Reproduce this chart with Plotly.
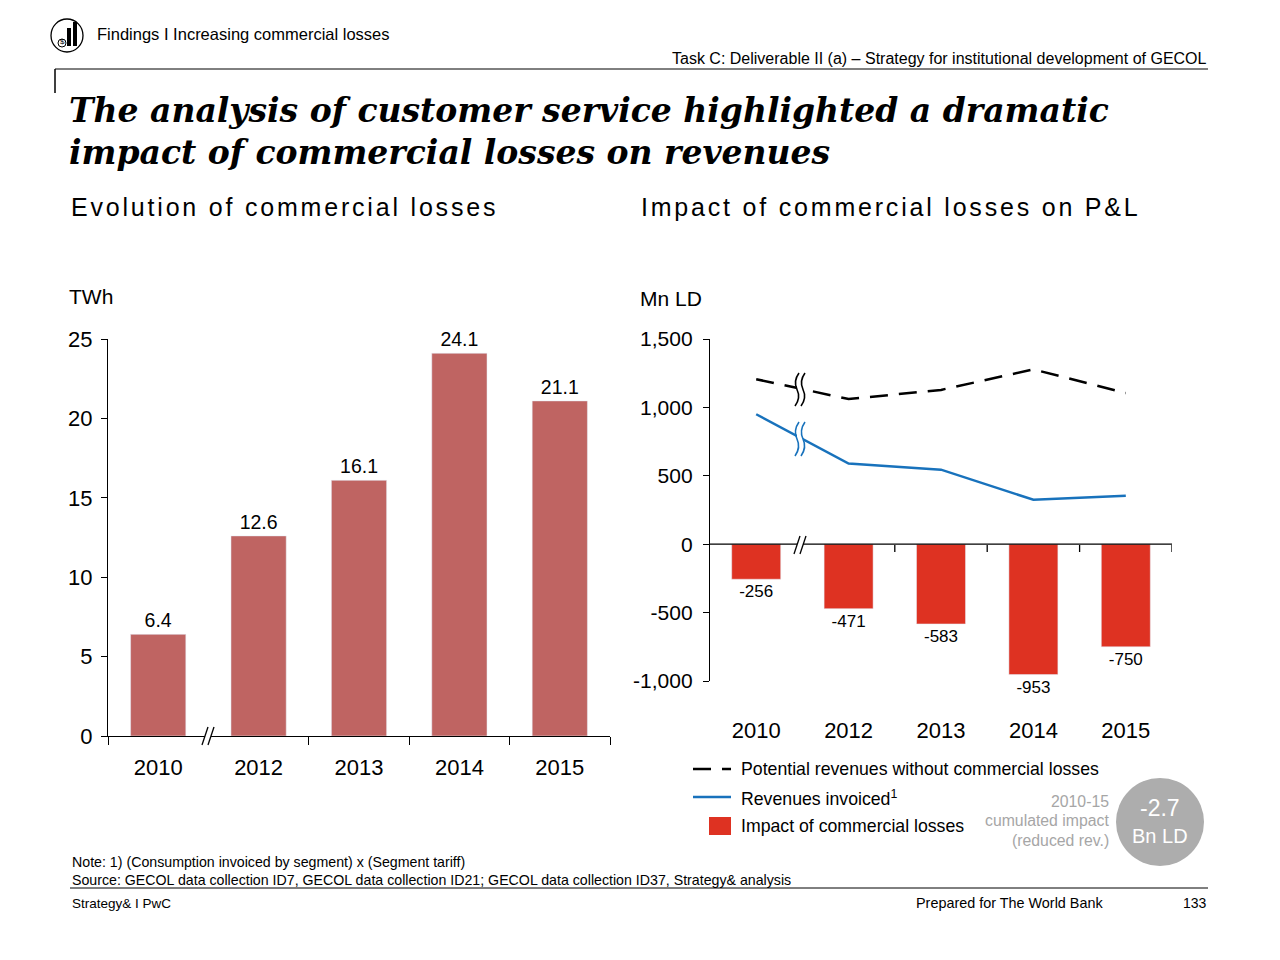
import plotly.graph_objects as go

W, H = 1280, 960

# ---- data ----
years = ["2010", "2012", "2013", "2014", "2015"]
losses_twh = [6.4, 12.6, 16.1, 24.1, 21.1]
potential_rev = [1206, 1061, 1128, 1278, 1105]
invoiced_rev = [950, 590, 545, 325, 355]
loss_impact = [-256, -471, -583, -953, -750]

left_yticks = [0, 5, 10, 15, 20, 25]
right_yticks = [-1000, -500, 0, 500, 1000, 1500]

legend_labels = ["Potential revenues without commercial losses",
                 "Revenues invoiced<sup>1</sup>",
                 "Impact of commercial losses"]

BAR_LEFT = "#BF6462"
BAR_RIGHT = "#DE3222"
BLUE = "#1872BC"
GREY = "#ADADAD"
FONT = "Liberation Sans"
DASH = "18px,11px"


def px(x):
    return x / W


def py(y):
    return 1 - y / H


xs = list(range(len(years)))

fig = go.Figure()

# left chart: commercial losses in TWh
fig.add_trace(go.Bar(
    x=xs, y=losses_twh, marker_color=BAR_LEFT, width=0.55,
    text=[f"{v:.1f}" for v in losses_twh], textposition="outside",
    textfont=dict(size=19.5, color="black"), cliponaxis=False,
    xaxis="x", yaxis="y", hoverinfo="skip",
))

# right chart: P&L
fig.add_trace(go.Scatter(
    x=xs, y=potential_rev, mode="lines", name=legend_labels[0],
    line=dict(color="black", width=2.5, dash=DASH),
    xaxis="x2", yaxis="y2",
))
fig.add_trace(go.Scatter(
    x=xs, y=invoiced_rev, mode="lines", name=legend_labels[1],
    line=dict(color=BLUE, width=2.5),
    xaxis="x2", yaxis="y2",
))
fig.add_trace(go.Bar(
    x=xs, y=loss_impact, name=legend_labels[2], marker_color=BAR_RIGHT, width=0.53,
    text=[f"{v:.0f}" for v in loss_impact], textposition="outside",
    textfont=dict(size=17, color="black"), cliponaxis=False,
    xaxis="x2", yaxis="y2",
))

year_font = dict(size=22, color="black", family=FONT)

fig.update_layout(
    width=W, height=H, margin=dict(l=0, r=0, t=0, b=0, autoexpand=False),
    plot_bgcolor="white", paper_bgcolor="white",
    font=dict(family=FONT, color="black"),
    showlegend=False,
    xaxis=dict(domain=[px(108), px(610)], range=[-0.5, 4.5], anchor="y",
               tickvals=xs, ticktext=years, ticks="", showline=True, showgrid=False,
               zeroline=False, linecolor="black", linewidth=1.3, ticklabelstandoff=11,
               minor=dict(tickvals=[-0.5, 1.5, 2.5, 3.5, 4.5], ticks="outside",
                          ticklen=8, tickcolor="black", tickwidth=1.3),
               tickfont=year_font),
    yaxis=dict(domain=[py(736), py(339)], range=[0, 25], anchor="x",
               tickvals=left_yticks, ticktext=[str(v) for v in left_yticks],
               ticks="outside", ticklen=6, tickwidth=1.3, tickcolor="black", showline=True,
               showgrid=False, zeroline=False, linecolor="black", linewidth=1.3,
               ticklabelstandoff=4, tickfont=dict(size=22, color="black", family=FONT)),
    xaxis2=dict(domain=[px(710), px(1172)], range=[-0.5, 4.5], anchor="y2",
                tickvals=xs, ticktext=years, ticks="", showline=False, showgrid=False,
                zeroline=False, ticklabelstandoff=34, tickfont=year_font),
    yaxis2=dict(domain=[py(681), py(339)], range=[-1000, 1500], anchor="x2",
                tickvals=right_yticks, ticktext=[f"{v:,}" for v in right_yticks],
                ticks="outside", ticklen=6, tickwidth=1.3, tickcolor="black", showline=True,
                showgrid=False, zeroline=False, linecolor="black", linewidth=1.3,
                ticklabelstandoff=6, tickfont=dict(size=21, color="black", family=FONT)),
    bargap=0.45,
)

shapes = []
line_k = dict(color="black", width=1.3)


def pline(x0, y0, x1, y1, **line):
    return dict(type="line", xref="paper", yref="paper", x0=px(x0), y0=py(y0),
                x1=px(x1), y1=py(y1), line=line)


# right chart x axis on the zero line + ticks
shapes.append(dict(type="line", xref="x2", yref="y2", x0=-0.5, x1=4.5, y0=0, y1=0, line=line_k))
for b in [1.5, 2.5, 3.5, 4.5]:
    shapes.append(dict(type="line", xref="x2", yref="paper", x0=b, x1=b,
                       y0=py(545), y1=py(552), line=line_k))


def axis_break(cx, cy):
    out = [dict(type="rect", xref="paper", yref="paper", x0=px(cx - 3), x1=px(cx + 3),
                y0=py(cy + 3), y1=py(cy - 3), fillcolor="white", line=dict(width=0))]
    for dx in (-3, 3):
        out.append(pline(cx + dx - 3, cy + 9, cx + dx + 3, cy - 9, **line_k))
    return out


shapes += axis_break(208, 736)
shapes += axis_break(800, 545)


def wave(x, y0, y1):
    ym = (y0 + y1) / 2
    q1 = (y0 + ym) / 2
    q2 = (ym + y1) / 2
    return (f"M {px(x + 2)},{py(y0)} Q {px(x - 4)},{py(q1)} {px(x)},{py(ym)} "
            f"Q {px(x + 4)},{py(q2)} {px(x - 2)},{py(y1)}")


def line_break(x, y0, y1, color):
    gap = 6
    fill_path = (f"M {px(x)},{py(y0 + 8)} L {px(x + gap)},{py(y0 + 8)} "
                 f"L {px(x + gap)},{py(y1 - 8)} L {px(x)},{py(y1 - 8)} Z")
    out = [dict(type="path", xref="paper", yref="paper", path=fill_path,
                fillcolor="white", line=dict(width=0))]
    for dx in (0, gap):
        out.append(dict(type="path", xref="paper", yref="paper", path=wave(x + dx, y0, y1),
                        line=dict(color=color, width=1.6)))
    return out


shapes += line_break(797, 373, 406, "black")
shapes += line_break(797, 422, 456, BLUE)

# legend keys
shapes.append(pline(693, 769, 731, 769, color="black", width=2.5, dash=DASH))
shapes.append(pline(693, 797, 731, 797, color=BLUE, width=2.5))
shapes.append(dict(type="rect", xref="paper", yref="paper", x0=px(709), x1=px(731),
                   y0=py(835), y1=py(817), fillcolor=BAR_RIGHT, line=dict(width=0)))

# header / footer rules
shapes.append(pline(55, 69, 1208, 69, color="black", width=1))
shapes.append(pline(55, 69, 55, 93, color="black", width=1.5))
shapes.append(pline(70, 888, 1208, 888, color="black", width=1))

# logo
shapes.append(dict(type="circle", xref="paper", yref="paper", x0=px(51), x1=px(83),
                   y0=py(52), y1=py(19), line=dict(color="black", width=1.3)))
shapes.append(dict(type="rect", xref="paper", yref="paper", x0=px(67), x1=px(71),
                   y0=py(46), y1=py(28), fillcolor="black", line=dict(width=0)))
shapes.append(dict(type="rect", xref="paper", yref="paper", x0=px(73), x1=px(77),
                   y0=py(46), y1=py(22), fillcolor="black", line=dict(width=0)))
shapes.append(dict(type="circle", xref="paper", yref="paper", x0=px(58), x1=px(66),
                   y0=py(47), y1=py(39), line=dict(color="black", width=1)))

# grey bubble
shapes.append(dict(type="circle", xref="paper", yref="paper", x0=px(1116), x1=px(1204),
                   y0=py(866), y1=py(778), fillcolor=GREY, line=dict(width=0)))

fig.update_layout(shapes=shapes)

ann = []


def text(x, y, s, size, anchor="left", color="black", family=FONT):
    ann.append(dict(x=px(x), y=py(y), xref="paper", yref="paper", text=s, showarrow=False,
                    xanchor=anchor, yanchor="middle",
                    font=dict(size=size, color=color, family=family)))


spaced = '<span style="letter-spacing:2.8px">{}</span>'

text(95, 34, "Findings I Increasing commercial losses", 16.5)
text(1209, 58, "Task C: Deliverable II (a) \u2013 Strategy for institutional development of GECOL", 16, "right")
text(67, 110, "<b><i>The analysis of customer service highlighted a dramatic</i></b>", 33, family="DejaVu Serif")
text(67, 152, "<b><i>impact of commercial losses on revenues</i></b>", 33, family="DejaVu Serif")
text(69, 207, spaced.format("Evolution of commercial losses"), 25)
text(639, 207, spaced.format("Impact of commercial losses on P&L"), 25)
text(67, 297, "TWh", 21)
text(638, 298, "Mn LD", 21)
for i, lab in enumerate(legend_labels):
    text(739, 769 + 28.5 * i, lab, 17.7)
text(1111, 801, "2010-15", 15.8, "right", "#A6A6A6")
text(1111, 820, "cumulated impact", 15.8, "right", "#A6A6A6")
text(1111, 840, "(reduced rev.)", 15.8, "right", "#A6A6A6")
text(1160, 808, "-2.7", 23, "center", "white")
text(1160, 836, "Bn LD", 20, "center", "white")
text(62, 41, "$", 8, "center")
text(70, 862, "Note: 1) (Consumption invoiced by segment) x (Segment tariff)", 14.2)
text(70, 880, "Source: GECOL data collection ID7, GECOL data collection ID21; GECOL data collection ID37, Strategy& analysis", 14.2)
text(70, 903, "Strategy& I PwC", 13.5)
text(1105, 903, "Prepared for The World Bank", 14.4, "right")
text(1209, 903, "133", 14, "right")

fig.update_layout(annotations=ann)

fig.write_html("out.html", config={"displayModeBar": False},
               post_script="document.body.style.margin='0';")
